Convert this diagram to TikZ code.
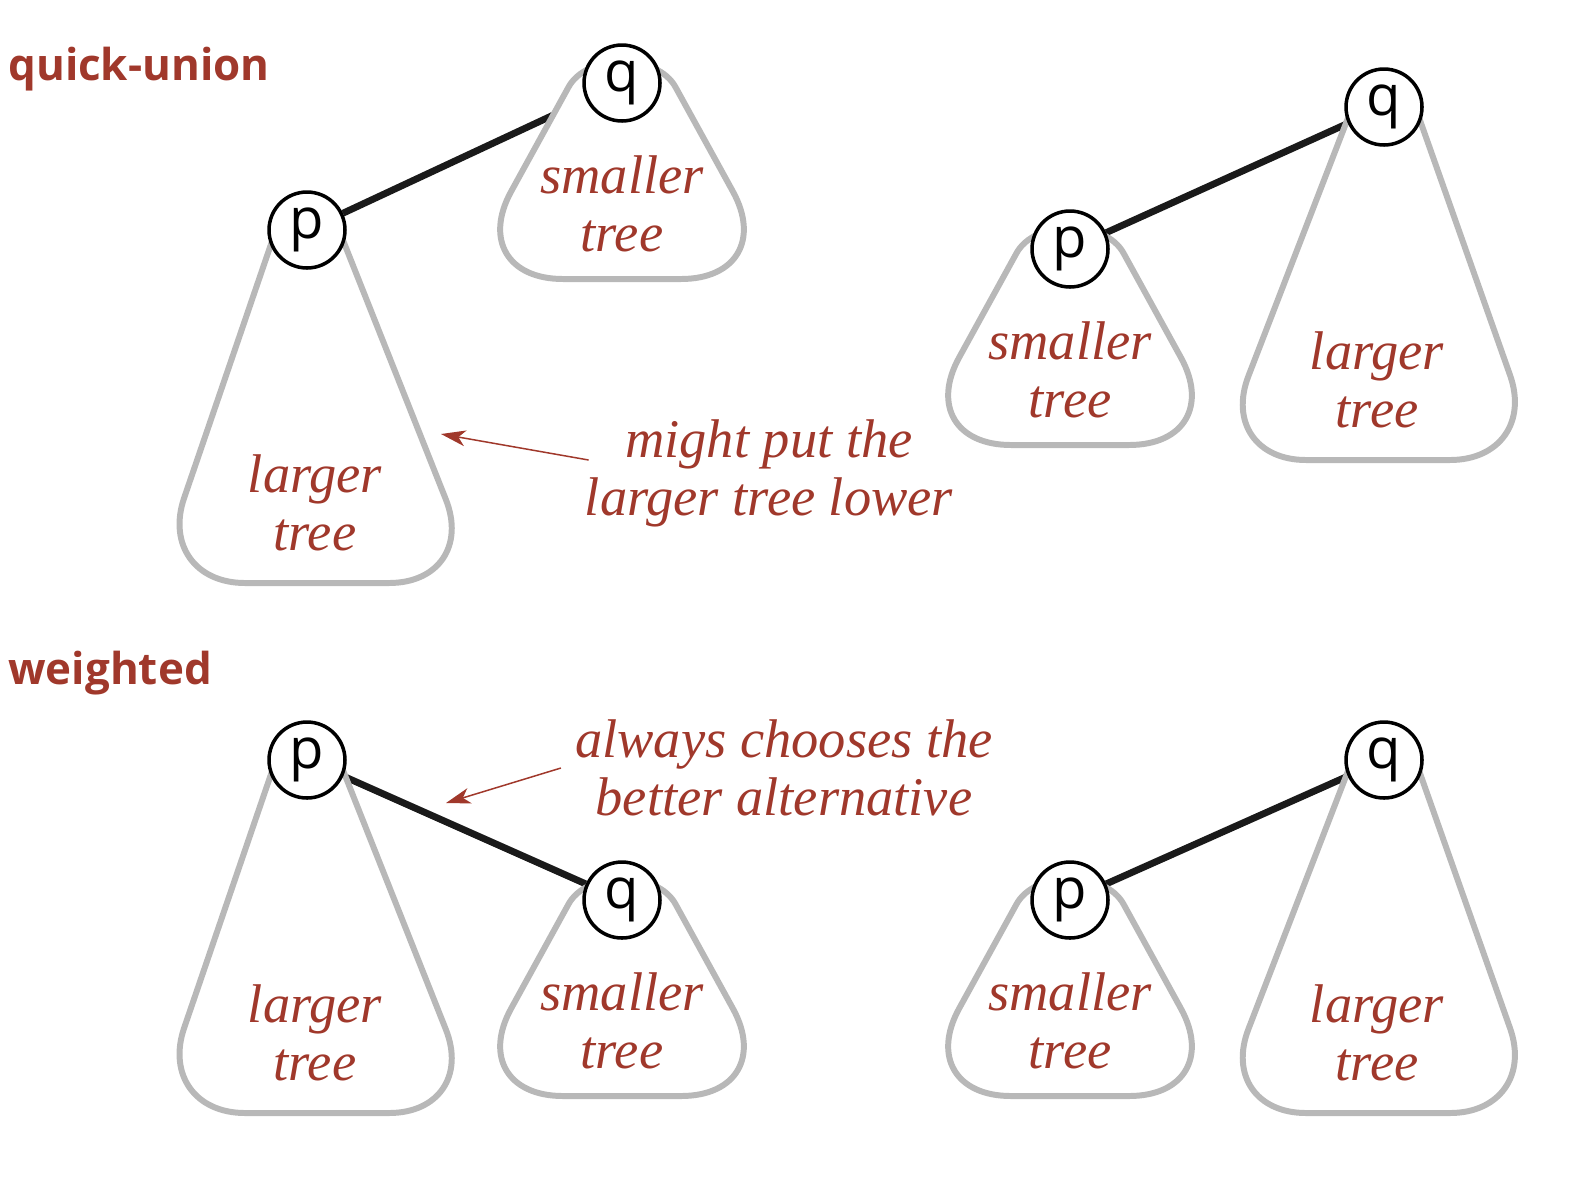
\documentclass[tikz,border=0pt]{standalone}
\usepackage{fontspec}
\setmainfont{Liberation Serif}
\setsansfont{Open Sans}
\usetikzlibrary{arrows.meta}
\definecolor{textred}{RGB}{160,56,43}
\definecolor{treegray}{RGB}{184,184,184}
\definecolor{linkblack}{RGB}{26,26,26}
\pgfdeclarelayer{links}
\pgfdeclarelayer{trees}
\pgfsetlayers{links,trees,main}
\newcommand{\largetree}[2]{\filldraw[tree,rounded corners=1.8cm]
  ([shift={(-26,-15)}]#1.center) -- ([shift={(#2-162,353)}]#1.center)
  -- ([shift={(#2+162,353)}]#1.center) -- ([shift={(26,-15)}]#1.center);}
\newcommand{\smalltree}[1]{\filldraw[tree]
  ([shift={(-54,5)}]#1.center) .. controls ([shift={(-36,-30)}]#1.center)
  and ([shift={(36,-30)}]#1.center) .. ([shift={(54,5)}]#1.center)
  [rounded corners=2cm] -- ([shift={(159,196)}]#1.center)
  -- ([shift={(-159,196)}]#1.center) -- ([shift={(-54,5)}]#1.center);}

\begin{document}
\begin{tikzpicture}[x=0.02cm,y=-0.02cm,
    site/.style={circle,draw=black,line width=2pt,fill=white,minimum size=1.52cm,
      inner sep=0pt,font=\sffamily\fontsize{32}{32}\selectfont},
    tree/.style={draw=treegray,fill=white,line width=3.4pt},
    link/.style={draw=linkblack,line width=3.9pt},
    treelabel/.style={text=textred,align=center,inner sep=0pt,
      font=\fontsize{31}{33}\selectfont\itshape},
    heading/.style={text=textred,anchor=base west,inner sep=0pt,
      font=\sffamily\bfseries\fontsize{25}{25}\selectfont},
    pointer/.style={draw=textred,line width=0.85pt,-{Stealth[length=14pt,width=9pt,inset=4pt]}}]
      \useasboundingbox (0,0) rectangle (1577,1178);
      \node[heading] (qu) at (8,80) {quick-union};
      \node[heading] (wt) at (8,684) {weighted};
      \node[site] (p1) at (307,230) {p};
      \node[site] (q1) at (622,83) {q};
      \node[site] (p2) at (1070,249) {p};
      \node[site] (q2) at (1384,107) {q};
      \node[site] (p3) at (307,760) {p};
      \node[site] (q3) at (622,900) {q};
      \node[site] (p4) at (1070,900) {p};
      \node[site] (q4) at (1384,760) {q};
      \begin{pgfonlayer}{links}
        \draw[link] (p1) -- (q1);
        \draw[link] (p2) -- (q2);
        \draw[link] (p3) -- (q3);
        \draw[link] (p4) -- (q4);
      \end{pgfonlayer}
      \begin{pgfonlayer}{trees}
        \largetree{p1}{10}
        \smalltree{q1}
        \smalltree{p2}
        \largetree{q2}{-6}
        \largetree{p3}{10}
        \smalltree{q3}
        \smalltree{p4}
        \largetree{q4}{-6}
      \end{pgfonlayer}
      \node[treelabel] (l1) at ([shift={(8,273)}]p1.center) {larger\\tree};
      \node[treelabel] (s1) at ([shift={(0,121)}]q1.center) {smaller\\tree};
      \node[treelabel] (s2) at ([shift={(0,121)}]p2.center) {smaller\\tree};
      \node[treelabel] (l2) at ([shift={(-7,273)}]q2.center) {larger\\tree};
      \node[treelabel] (l3) at ([shift={(8,273)}]p3.center) {larger\\tree};
      \node[treelabel] (s3) at ([shift={(0,121)}]q3.center) {smaller\\tree};
      \node[treelabel] (s4) at ([shift={(0,121)}]p4.center) {smaller\\tree};
      \node[treelabel] (l4) at ([shift={(-7,273)}]q4.center) {larger\\tree};
      \node[treelabel] (lower) at (769,473) {might put the\\larger tree lower};
      \node[treelabel] (better) at (784,768) {always chooses the\\better alternative};
      \coordinate (lowertip) at (441,434);
      \coordinate (bettertip) at (446,803);
      \draw[pointer] ([shift={(4,-13)}]lower.west) -- (lowertip);
      \draw[pointer] ([shift={(-14,0)}]better.west) -- (bettertip);
\end{tikzpicture}
\end{document}
